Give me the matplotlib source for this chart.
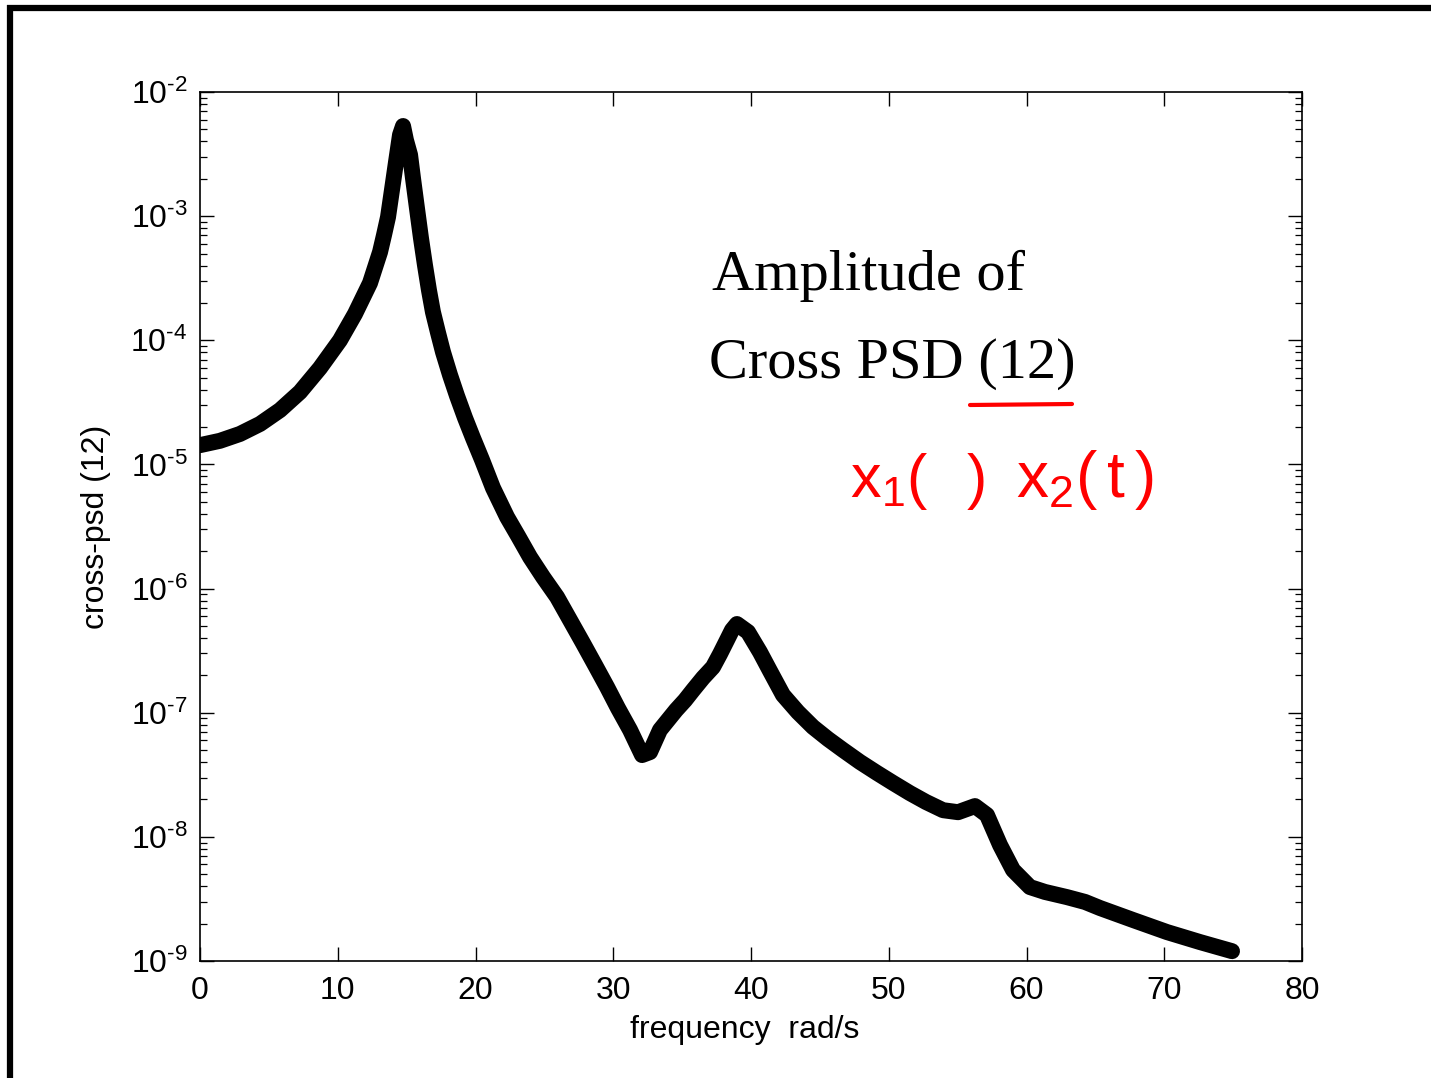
import matplotlib
matplotlib.use("Agg")
import matplotlib.pyplot as plt
from matplotlib.lines import Line2D
from matplotlib.ticker import FixedLocator, FixedFormatter, NullFormatter

# ---- data ----
freq = [0.00, 1.45, 2.90, 4.36, 5.81, 7.26, 8.71, 10.16, 11.25, 12.34, 13.07,
        13.36, 13.65, 14.01, 14.23, 14.52, 14.74, 14.95, 15.25, 15.46, 15.75,
        16.04, 16.33, 16.62, 16.91, 17.28, 17.64, 18.15, 18.66, 19.24, 19.82,
        20.47, 21.27, 22.29, 23.09, 23.96, 24.90, 25.92, 26.86, 27.80, 28.68,
        29.55, 30.34, 31.22, 32.09, 32.67, 33.39, 34.56, 35.21, 35.79, 36.52,
        37.24, 37.75, 38.26, 38.62, 38.98, 39.78, 40.65, 41.38, 42.32, 43.41,
        44.50, 45.59, 46.68, 47.91, 49.15, 50.31, 51.54, 52.70, 53.94, 55.03,
        56.26, 57.13, 58.08, 59.02, 60.25, 61.34, 62.94, 64.25, 65.34, 67.73,
        70.20, 72.60, 74.92]
psd = [1.43e-5, 1.55e-5, 1.76e-5, 2.12e-5, 2.74e-5, 3.83e-5, 5.98e-5, 1.00e-4,
       1.63e-4, 2.89e-4, 5.14e-4, 7.05e-4, 9.84e-4, 1.85e-3, 2.73e-3, 4.51e-3,
       5.32e-3, 4.10e-3, 3.11e-3, 2.03e-3, 1.16e-3, 6.67e-4, 4.04e-4, 2.54e-4,
       1.69e-4, 1.15e-4, 8.05e-5, 5.25e-5, 3.56e-5, 2.37e-5, 1.63e-5, 1.09e-5,
       6.46e-6, 3.77e-6, 2.65e-6, 1.79e-6, 1.24e-6, 8.55e-7, 5.58e-7, 3.64e-7,
       2.42e-7, 1.61e-7, 1.09e-7, 7.26e-8, 4.56e-8, 4.82e-8, 7.26e-8, 1.05e-7,
       1.26e-7, 1.52e-7, 1.91e-7, 2.33e-7, 2.97e-7, 3.85e-7, 4.63e-7, 5.18e-7,
       4.47e-7, 3.08e-7, 2.17e-7, 1.39e-7, 1.01e-7, 7.67e-8, 6.14e-8, 5.01e-8,
       4.01e-8, 3.27e-8, 2.72e-8, 2.25e-8, 1.91e-8, 1.64e-8, 1.58e-8, 1.77e-8,
       1.50e-8, 8.59e-9, 5.41e-9, 3.94e-9, 3.60e-9, 3.27e-9, 2.99e-9, 2.67e-9,
       2.14e-9, 1.71e-9, 1.42e-9, 1.20e-9]
x_ticks = [0, 10, 20, 30, 40, 50, 60, 70, 80]
y_exponents = [-9, -8, -7, -6, -5, -4, -3, -2]
x_label = "frequency  rad/s"
y_label = "cross-psd (12)"
title_lines = ["Amplitude of", "Cross PSD (12)"]
hand_notes = ["$\\mathregular{x_1(\\ \\ )}$", "$\\mathregular{x_2(\\,t\\,)}$"]

plt.rcParams["font.family"] = ["Liberation Sans", "DejaVu Sans"]
plt.rcParams["mathtext.fontset"] = "custom"
plt.rcParams["mathtext.rm"] = "Liberation Sans"

W, H = 1431, 1078
fig = plt.figure(figsize=(W / 100, H / 100), dpi=100)
fig.patch.set_facecolor("white")
ax = fig.add_axes([200 / W, 1 - 961 / H, 1102 / W, 869 / H])

ax.plot(freq, psd, color="black", lw=11.5, solid_joinstyle="round",
        solid_capstyle="round")

ax.set_yscale("log")
ax.set_xlim(0, 80)
ax.set_ylim(1e-9, 1e-2)
ax.set_xticks(x_ticks)
ax.set_xticklabels([str(t) for t in x_ticks])

y_major = [10.0 ** e for e in y_exponents]
y_minor = [m * 10.0 ** e for e in y_exponents[:-1] for m in range(2, 10)]
ax.yaxis.set_major_locator(FixedLocator(y_major))
ax.yaxis.set_minor_locator(FixedLocator(y_minor))
ax.yaxis.set_major_formatter(FixedFormatter(
    ["$\\mathregular{10^{\u2010%d}}$" % (-e) for e in y_exponents]))
ax.yaxis.set_minor_formatter(NullFormatter())

ax.tick_params(which="both", direction="in", top=True, right=True,
               labelsize=23, colors="black")
ax.tick_params(which="major", length=10, width=1)
ax.tick_params(which="minor", length=5, width=0.9)
ax.tick_params(axis="x", pad=11)
ax.tick_params(axis="y", pad=9)
for s in ax.spines.values():
    s.set_linewidth(1.2)

ax.set_xlabel(x_label, fontsize=23)
ax.xaxis.set_label_coords((745 - 200) / 1102, -0.062)
ax.set_ylabel(y_label, fontsize=23)
ax.yaxis.set_label_coords(-0.081, 0.5)

# title text in serif
fig.text(712 / W, 1 - 290 / H, title_lines[0], family="Liberation Serif",
         fontsize=42, va="baseline", ha="left")
fig.text(709 / W, 1 - 378 / H, title_lines[1], family="Liberation Serif",
         fontsize=42, va="baseline", ha="left")

# red hand annotations
fig.add_artist(Line2D([970 / W, 1072 / W], [1 - 405 / H, 1 - 404 / H],
                      transform=fig.transFigure, color="#ff0000", lw=3,
                      solid_capstyle="round"))
fig.text(850 / W, 1 - 497 / H, hand_notes[0], color="#ff0000",
         fontsize=44, va="baseline", ha="left")
fig.text(1016 / W, 1 - 497 / H, hand_notes[1], color="#ff0000",
         fontsize=46, va="baseline", ha="left")

# slide frame lines
fig.add_artist(Line2D([10 / W, 10 / W], [0, 1 - 5 / H], transform=fig.transFigure,
                      color="black", lw=4.5, solid_capstyle="butt"))
fig.add_artist(Line2D([7 / W, 1], [1 - 8 / H, 1 - 8 / H], transform=fig.transFigure,
                      color="black", lw=4.5, solid_capstyle="butt"))

fig.savefig("out.png", dpi=100, facecolor="white")
